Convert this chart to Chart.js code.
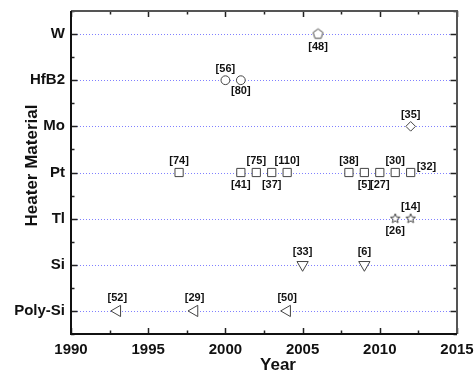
<!DOCTYPE html>
<html>
<head>
<meta charset="utf-8">
<script src="https://cdn.jsdelivr.net/npm/chart.js@4.4.1/dist/chart.umd.min.js"></script>
<style>
  html, body { margin: 0; padding: 0; background: #fff; }
  canvas { display: block; }
</style>
</head>
<body>
<canvas id="chart" width="474" height="377"></canvas>
<script>
// Heater materials, listed top to bottom
const categories = ['W', 'HfB2', 'Mo', 'Pt', 'Tl', 'Si', 'Poly-Si'];

// Year axis ticks
const yearMin = 1990;
const yearMax = 2015;
const yearStep = 5;

// Publication years and reference numbers per material
const wYears = [2006];
const wRefs = ['[48]'];
const wSide = ['below'];

const hfb2Years = [2000, 2001];
const hfb2Refs = ['[56]', '[80]'];
const hfb2Side = ['above', 'below'];

const moYears = [2012];
const moRefs = ['[35]'];
const moSide = ['above'];

const ptYears = [1997, 2001, 2002, 2003, 2004, 2008, 2009, 2010, 2011, 2012];
const ptRefs = ['[74]', '[41]', '[75]', '[37]', '[110]', '[38]', '[5]', '[27]', '[30]', '[32]'];
const ptSide = ['above', 'below', 'above', 'below', 'above', 'above', 'below', 'below', 'above', 'right'];

const tlYears = [2011, 2012];
const tlRefs = ['[26]', '[14]'];
const tlSide = ['below', 'above'];

const siYears = [2005, 2009];
const siRefs = ['[33]', '[6]'];
const siSide = ['above', 'above'];

const polySiYears = [1993, 1998, 2004];
const polySiRefs = ['[52]', '[29]', '[50]'];
const polySiSide = ['above', 'above', 'above'];

const STROKE = '#444';

// Outline markers that Chart.js has no built-in style for
function polygonMarker(points, outerR, innerR) {
  const size = Math.ceil(outerR * 2 + 4);
  const c = document.createElement('canvas');
  c.width = size; c.height = size;
  const g = c.getContext('2d');
  const cx = size / 2, cy = size / 2;
  const n = innerR ? points * 2 : points;
  g.beginPath();
  for (let i = 0; i < n; i++) {
    const r = innerR ? (i % 2 === 0 ? outerR : innerR) : outerR;
    const a = -Math.PI / 2 + i * 2 * Math.PI / n;
    const px = cx + r * Math.cos(a), py = cy + r * Math.sin(a);
    if (i === 0) g.moveTo(px, py); else g.lineTo(px, py);
  }
  g.closePath();
  g.fillStyle = '#fff';
  g.fill();
  g.lineWidth = 1;
  g.strokeStyle = STROKE;
  g.stroke();
  return c;
}
const pentagon = polygonMarker(5, 5.2);
const star = polygonMarker(5, 5, 2.2);

function series(name, years, refs, sides, style) {
  const row = categories.indexOf(name);
  return Object.assign({
    label: name,
    data: years.map(y => ({ x: y, y: row })),
    refs: refs,
    sides: sides,
    backgroundColor: '#fff',
    borderColor: STROKE,
    borderWidth: 1,
    pointRadius: 4.5,
    pointHoverRadius: 4.5,
    showLine: false,
    labelGap: 12
  }, style);
}

const datasets = [
  series('W', wYears, wRefs, wSide, { pointStyle: pentagon, labelGap: 13 }),
  series('HfB2', hfb2Years, hfb2Refs, hfb2Side, { pointStyle: 'circle', pointRadius: 4.4, labelGap: 11 }),
  series('Mo', moYears, moRefs, moSide, { pointStyle: 'rectRot', pointRadius: 4.8, labelGap: 11 }),
  series('Pt', ptYears, ptRefs, ptSide, { pointStyle: 'rect', pointRadius: 5.8, labelGap: 12 }),
  series('Tl', tlYears, tlRefs, tlSide, { pointStyle: star, labelGap: 12 }),
  series('Si', siYears, siRefs, siSide, { pointStyle: 'triangle', rotation: 180, pointRadius: 6.5, labelGap: 13 }),
  series('Poly-Si', polySiYears, polySiRefs, polySiSide, { pointStyle: 'triangle', rotation: -90, pointRadius: 6.5, labelGap: 13 })
];

// Dotted guide line along every material row
const rowLines = {
  id: 'rowLines',
  beforeDatasetsDraw(chart) {
    const { ctx, chartArea: a, scales: { y } } = chart;
    ctx.save();
    ctx.strokeStyle = '#8080ff';
    ctx.lineWidth = 1;
    ctx.setLineDash([1, 2]);
    categories.forEach((_, i) => {
      const py = Math.round(y.getPixelForValue(i)) + 0.5;
      ctx.beginPath();
      ctx.moveTo(a.left, py);
      ctx.lineTo(a.right, py);
      ctx.stroke();
    });
    ctx.restore();
  }
};

// Reference-number labels beside each marker
const refLabels = {
  id: 'refLabels',
  afterDatasetsDraw(chart) {
    const { ctx } = chart;
    ctx.save();
    ctx.font = 'bold 11px "Liberation Sans", Arial, sans-serif';
    ctx.fillStyle = '#111';
    ctx.textBaseline = 'middle';
    chart.data.datasets.forEach((ds, di) => {
      const meta = chart.getDatasetMeta(di);
      meta.data.forEach((pt, i) => {
        const side = ds.sides[i];
        let x = pt.x, yy = pt.y;
        ctx.textAlign = 'center';
        if (side === 'above') yy -= ds.labelGap;
        else if (side === 'below') yy += ds.labelGap;
        else if (side === 'right') { ctx.textAlign = 'left'; x += 6; yy -= 6; }
        ctx.fillText(ds.refs[i], x, yy);
      });
    });
    ctx.restore();
  }
};

// Closed frame with inward tick marks on all four sides, plus axis titles
const frame = {
  id: 'frame',
  afterDraw(chart) {
    const { ctx, chartArea: a, scales: { x, y } } = chart;
    ctx.save();
    ctx.lineCap = 'butt';
    ctx.strokeStyle = '#222';
    ctx.lineWidth = 1.5;
    x.ticks.forEach(t => {
      const px = Math.round(x.getPixelForValue(t.value)) + 0.5;
      const len = t.value % yearStep === 0 ? 6 : 3.5;
      ctx.beginPath();
      ctx.moveTo(px, a.bottom); ctx.lineTo(px, a.bottom - len);
      ctx.moveTo(px, a.top); ctx.lineTo(px, a.top + len);
      ctx.stroke();
    });
    y.ticks.forEach(t => {
      const py = Math.round(y.getPixelForValue(t.value)) + 0.5;
      const len = Number.isInteger(t.value) ? 6.5 : 3.5;
      ctx.beginPath();
      ctx.moveTo(a.left, py); ctx.lineTo(a.left + len, py);
      ctx.moveTo(a.right, py); ctx.lineTo(a.right - len, py);
      ctx.stroke();
    });
    ctx.lineWidth = 2;
    ctx.strokeStyle = '#555';
    ctx.beginPath();
    ctx.moveTo(a.left, a.top); ctx.lineTo(a.right, a.top); ctx.lineTo(a.right, a.bottom);
    ctx.stroke();
    ctx.strokeStyle = '#111';
    ctx.beginPath();
    ctx.moveTo(a.left, a.top); ctx.lineTo(a.left, a.bottom); ctx.lineTo(a.right, a.bottom);
    ctx.stroke();

    ctx.fillStyle = '#111';
    ctx.font = 'bold 17px "Liberation Sans", Arial, sans-serif';
    ctx.textAlign = 'center';
    ctx.textBaseline = 'middle';
    ctx.fillText('Year', 278, 365);
    ctx.translate(32.5, 165.5);
    ctx.rotate(-Math.PI / 2);
    ctx.fillText('Heater Material', 0, 0);
    ctx.restore();
  }
};

const tickFont = { family: '"Liberation Sans", Arial, sans-serif', size: 15, weight: 'bold' };

new Chart(document.getElementById('chart'), {
  type: 'scatter',
  data: { datasets },
  options: {
    responsive: false,
    animation: false,
    events: [],
    layout: { padding: { left: 0, top: 11, right: 17, bottom: 0 } },
    plugins: { legend: { display: false }, tooltip: { enabled: false } },
    scales: {
      x: {
        type: 'linear',
        min: yearMin,
        max: yearMax,
        grid: { display: false, drawTicks: false },
        border: { display: false },
        ticks: {
          stepSize: yearStep / 2,
          autoSkip: false,
          maxRotation: 0,
          padding: 7,
          color: '#111',
          font: tickFont,
          callback: v => (v % yearStep === 0 ? String(v) : '')
        },
        afterFit: s => { s.height = 43; s.paddingLeft = 0; s.paddingRight = 0; }
      },
      y: {
        type: 'linear',
        reverse: true,
        min: -0.5,
        max: categories.length - 0.5,
        grid: { display: false, drawTicks: false },
        border: { display: false },
        ticks: {
          stepSize: 0.5,
          autoSkip: false,
          padding: 6,
          color: '#111',
          font: tickFont,
          callback: v => (Number.isInteger(v) ? categories[v] : '')
        },
        afterFit: s => { s.width = 71; s.paddingTop = 0; s.paddingBottom = 0; }
      }
    }
  },
  plugins: [rowLines, refLabels, frame]
});
</script>
</body>
</html>
